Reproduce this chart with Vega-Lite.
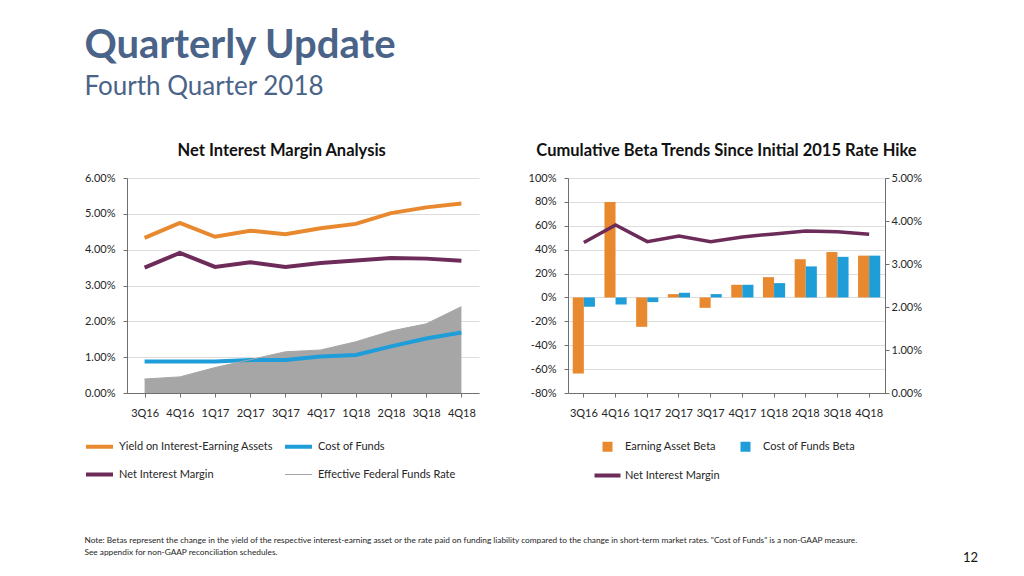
{
  "$schema": "https://vega.github.io/schema/vega-lite/v6.json",
  "background": "white",
  "padding": {"left": 84, "top": 25, "right": 0, "bottom": 0},
  "title": {
    "text": "Quarterly Update",
    "subtitle": "Fourth Quarter 2018",
    "anchor": "start",
    "font": "Lato",
    "fontSize": 40,
    "fontWeight": "bold",
    "color": "#4a6388",
    "subtitleFont": "Lato",
    "subtitleFontSize": 26,
    "subtitleColor": "#4a6388",
    "subtitlePadding": 8,
    "offset": 43
  },
  "config": {
    "view": {"stroke": null},
    "font": "Lato",
    "axis": {
      "labelFont": "Lato",
      "labelFontSize": 11,
      "labelColor": "#262626",
      "domainColor": "#6f6f6f",
      "tickColor": "#6f6f6f",
      "tickSize": 4,
      "gridColor": "#dddddd",
      "labelOverlap": false,
      "title": null
    },
    "title": {"font": "Lato", "fontSize": 16.5, "fontWeight": "bold", "color": "#111111"}
  },
  "datasets": {
    "nim": [
      {"q": "3Q16", "series": "Yield on Interest-Earning Assets", "v": 4.33},
      {"q": "4Q16", "series": "Yield on Interest-Earning Assets", "v": 4.75},
      {"q": "1Q17", "series": "Yield on Interest-Earning Assets", "v": 4.36},
      {"q": "2Q17", "series": "Yield on Interest-Earning Assets", "v": 4.53},
      {"q": "3Q17", "series": "Yield on Interest-Earning Assets", "v": 4.43},
      {"q": "4Q17", "series": "Yield on Interest-Earning Assets", "v": 4.60},
      {"q": "1Q18", "series": "Yield on Interest-Earning Assets", "v": 4.72},
      {"q": "2Q18", "series": "Yield on Interest-Earning Assets", "v": 5.02},
      {"q": "3Q18", "series": "Yield on Interest-Earning Assets", "v": 5.18},
      {"q": "4Q18", "series": "Yield on Interest-Earning Assets", "v": 5.29},
      {"q": "3Q16", "series": "Cost of Funds", "v": 0.88},
      {"q": "4Q16", "series": "Cost of Funds", "v": 0.88},
      {"q": "1Q17", "series": "Cost of Funds", "v": 0.88},
      {"q": "2Q17", "series": "Cost of Funds", "v": 0.92},
      {"q": "3Q17", "series": "Cost of Funds", "v": 0.92},
      {"q": "4Q17", "series": "Cost of Funds", "v": 1.02},
      {"q": "1Q18", "series": "Cost of Funds", "v": 1.06},
      {"q": "2Q18", "series": "Cost of Funds", "v": 1.30},
      {"q": "3Q18", "series": "Cost of Funds", "v": 1.52},
      {"q": "4Q18", "series": "Cost of Funds", "v": 1.69},
      {"q": "3Q16", "series": "Net Interest Margin", "v": 3.50},
      {"q": "4Q16", "series": "Net Interest Margin", "v": 3.91},
      {"q": "1Q17", "series": "Net Interest Margin", "v": 3.52},
      {"q": "2Q17", "series": "Net Interest Margin", "v": 3.65},
      {"q": "3Q17", "series": "Net Interest Margin", "v": 3.52},
      {"q": "4Q17", "series": "Net Interest Margin", "v": 3.63},
      {"q": "1Q18", "series": "Net Interest Margin", "v": 3.70},
      {"q": "2Q18", "series": "Net Interest Margin", "v": 3.77},
      {"q": "3Q18", "series": "Net Interest Margin", "v": 3.75},
      {"q": "4Q18", "series": "Net Interest Margin", "v": 3.69},
      {"q": "3Q16", "series": "Effective Federal Funds Rate", "v": 0.39},
      {"q": "4Q16", "series": "Effective Federal Funds Rate", "v": 0.45},
      {"q": "1Q17", "series": "Effective Federal Funds Rate", "v": 0.71},
      {"q": "2Q17", "series": "Effective Federal Funds Rate", "v": 0.93},
      {"q": "3Q17", "series": "Effective Federal Funds Rate", "v": 1.15},
      {"q": "4Q17", "series": "Effective Federal Funds Rate", "v": 1.20},
      {"q": "1Q18", "series": "Effective Federal Funds Rate", "v": 1.43},
      {"q": "2Q18", "series": "Effective Federal Funds Rate", "v": 1.73},
      {"q": "3Q18", "series": "Effective Federal Funds Rate", "v": 1.93},
      {"q": "4Q18", "series": "Effective Federal Funds Rate", "v": 2.41}
    ],
    "beta": [
      {"q": "3Q16", "series": "Earning Asset Beta", "v": -63.7},
      {"q": "4Q16", "series": "Earning Asset Beta", "v": 80},
      {"q": "1Q17", "series": "Earning Asset Beta", "v": -24.6},
      {"q": "2Q17", "series": "Earning Asset Beta", "v": 2.8},
      {"q": "3Q17", "series": "Earning Asset Beta", "v": -8.7},
      {"q": "4Q17", "series": "Earning Asset Beta", "v": 10.6},
      {"q": "1Q18", "series": "Earning Asset Beta", "v": 17},
      {"q": "2Q18", "series": "Earning Asset Beta", "v": 32},
      {"q": "3Q18", "series": "Earning Asset Beta", "v": 38},
      {"q": "4Q18", "series": "Earning Asset Beta", "v": 35},
      {"q": "3Q16", "series": "Cost of Funds Beta", "v": -7.8},
      {"q": "4Q16", "series": "Cost of Funds Beta", "v": -5.9},
      {"q": "1Q17", "series": "Cost of Funds Beta", "v": -3.9},
      {"q": "2Q17", "series": "Cost of Funds Beta", "v": 3.9},
      {"q": "3Q17", "series": "Cost of Funds Beta", "v": 2.8},
      {"q": "4Q17", "series": "Cost of Funds Beta", "v": 10.6},
      {"q": "1Q18", "series": "Cost of Funds Beta", "v": 12},
      {"q": "2Q18", "series": "Cost of Funds Beta", "v": 26},
      {"q": "3Q18", "series": "Cost of Funds Beta", "v": 34},
      {"q": "4Q18", "series": "Cost of Funds Beta", "v": 35}
    ],
    "foot": [
      {"kind": "page", "text": "12"}
    ]
  },
  "concat": [
    {
      "title": {
        "text": ["Note: Betas represent the change in the yield of the respective interest-earning asset or the rate paid on funding liability compared to the change in short-term market rates. \"Cost of Funds\" is a non-GAAP measure.", "See appendix for non-GAAP reconciliation schedules."],
        "orient": "bottom", "anchor": "start", "frame": "bounds",
        "font": "Lato", "fontSize": 8.3, "fontWeight": "normal", "color": "#262626",
        "lineHeight": 12, "offset": 52
      },
      "hconcat": [
        {
          "title": {"text": "Net Interest Margin Analysis", "offset": 13, "frame": "bounds"},
          "width": 352,
          "height": 215,
          "data": {"name": "nim"},
          "encoding": {
            "x": {
              "field": "q", "type": "ordinal", "sort": null,
              "axis": {"labelAngle": 0, "labelPadding": 10}
            },
            "y": {
              "field": "v", "type": "quantitative",
              "scale": {"domain": [0, 6]},
              "axis": {"values": [0, 1, 2, 3, 4, 5, 6], "labelExpr": "format(datum.value, '.2f') + '%'", "labelPadding": 8}
            }
          },
          "layer": [
            {
              "transform": [{"filter": "datum.series === 'Effective Federal Funds Rate'"}],
              "mark": {"type": "area", "color": "#a6a6a6"}
            },
            {
              "mark": {"type": "line"},
              "encoding": {
                "color": {
                  "field": "series", "type": "nominal",
                  "scale": {
                    "domain": ["Yield on Interest-Earning Assets", "Cost of Funds", "Net Interest Margin", "Effective Federal Funds Rate"],
                    "range": ["#e8892f", "#1f9dd9", "#6d2b59", "#a6a6a6"]
                  },
                  "legend": {
                    "orient": "none", "legendX": -33, "legendY": 263,
                    "columns": 2, "direction": "horizontal", "title": null,
                    "symbolType": "stroke", "symbolSize": 729, "symbolStrokeWidth": 4,
                    "labelFont": "Lato", "labelFontSize": 11, "labelColor": "#262626",
                    "labelOffset": 14, "columnPadding": 4, "rowPadding": 11,
                    "encode": {"symbols": {"update": {"strokeWidth": {"signal": "datum.value === 'Effective Federal Funds Rate' ? 1 : 4"}}}}
                  }
                },
                "strokeWidth": {"condition": {"test": "datum.series === 'Effective Federal Funds Rate'", "value": 1}, "value": 4}
              }
            }
          ]
        },
        {
          "title": {"text": "Cumulative Beta Trends Since Initial 2015 Rate Hike", "offset": 13},
          "width": 317,
          "height": 215,
          "encoding": {
            "x": {
              "field": "q", "type": "nominal", "sort": null,
              "scale": {"paddingInner": 0.3, "paddingOuter": 0.15},
              "axis": {"labelAngle": 0, "labelPadding": 10}
            }
          },
          "layer": [
            {
              "data": {"name": "beta"},
              "mark": {"type": "bar"},
              "encoding": {
                "xOffset": {"field": "series", "type": "nominal", "sort": ["Earning Asset Beta", "Cost of Funds Beta"]},
                "y": {
                  "field": "v", "type": "quantitative",
                  "scale": {"domain": [-80, 100]},
                  "axis": {"values": [-80, -60, -40, -20, 0, 20, 40, 60, 80, 100], "labelExpr": "datum.value + '%'", "labelPadding": 8}
                },
                "color": {
                  "field": "series", "type": "nominal",
                  "scale": {
                    "domain": ["Earning Asset Beta", "Cost of Funds Beta", "Net Interest Margin"],
                    "range": ["#e8892f", "#1f9dd9", "#6d2b59"]
                  },
                  "legend": {
                    "orient": "none", "legendX": 34, "legendY": 263,
                    "columns": 2, "direction": "horizontal", "title": null,
                    "symbolSize": 676,
                    "labelFont": "Lato", "labelFontSize": 11, "labelColor": "#262626",
                    "labelOffset": 12, "columnPadding": 20, "rowPadding": 15,
                    "encode": {"symbols": {"update": {
                      "shape": {"signal": "datum.value === 'Net Interest Margin' ? 'stroke' : 'square'"},
                      "size": {"signal": "datum.value === 'Net Interest Margin' ? 676 : 100"},
                      "strokeWidth": {"signal": "datum.value === 'Net Interest Margin' ? 4 : 0"},
                      "stroke": {"signal": "datum.value === 'Net Interest Margin' ? '#6d2b59' : 'transparent'"},
                      "fill": {"signal": "datum.value === 'Earning Asset Beta' ? '#e8892f' : datum.value === 'Cost of Funds Beta' ? '#1f9dd9' : 'transparent'"}
                    }}}
                  }
                }
              }
            },
            {
              "data": {"name": "nim"},
              "transform": [{"filter": "datum.series === 'Net Interest Margin'"}],
              "mark": {"type": "line", "strokeWidth": 3.5},
              "encoding": {
                "y": {
                  "field": "v", "type": "quantitative",
                  "scale": {"domain": [0, 5]},
                  "axis": {"orient": "right", "grid": false, "values": [0, 1, 2, 3, 4, 5], "labelExpr": "format(datum.value, '.2f') + '%'", "labelPadding": 2}
                },
                "color": {"field": "series", "type": "nominal"}
              }
            }
          ],
          "resolve": {"scale": {"y": "independent"}}
        }
      ],
      "spacing": 49,
      "resolve": {"scale": {"color": "independent"}, "legend": {"color": "independent"}}
    },
    {
      "width": 851,
      "height": 1,
      "data": {"name": "foot"},
      "mark": {"type": "text", "align": "right", "baseline": "middle", "font": "Lato", "fontSize": 13, "color": "#111111"},
      "encoding": {
        "x": {"field": "kind", "type": "nominal", "scale": {"type": "point", "domain": ["note", "page"], "padding": 0}, "axis": null},
        "text": {"field": "text"}
      }
    }
  ],
  "columns": 1,
  "spacing": -6
}
